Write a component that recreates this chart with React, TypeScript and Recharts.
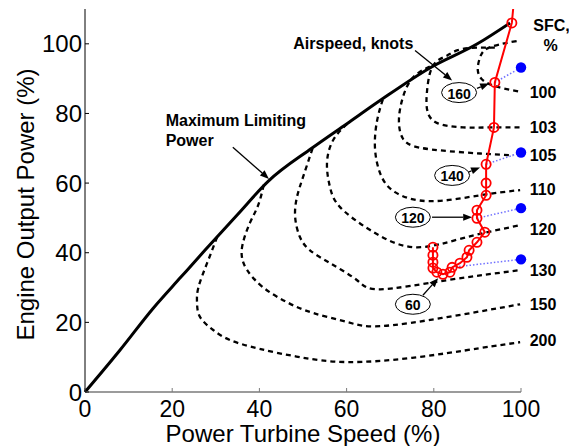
import { ComposedChart, Line, Scatter, XAxis, YAxis, ReferenceDot, ReferenceLine } from 'recharts';

const FONT = '"Liberation Sans", Arial, Helvetica, sans-serif';

type Pt = { x: number; y: number; mark?: boolean };

// Maximum limiting power line
const maxPower: Pt[] = [
  { x: 0, y: 0 }, { x: 8, y: 12 }, { x: 15.6, y: 24 }, { x: 22, y: 33 }, { x: 27.5, y: 40.7 },
  { x: 35, y: 51 }, { x: 42, y: 60.5 }, { x: 52, y: 70 }, { x: 60, y: 77 }, { x: 68, y: 84 },
  { x: 79, y: 93 }, { x: 90, y: 100 }, { x: 97.5, y: 106 },
];

// SFC contours (%)
const sfc100: Pt[] = [
  { x: 99, y: 100.8 }, { x: 95, y: 99.8 }, { x: 92, y: 98.5 }, { x: 90.6, y: 96.1 }, { x: 90.1, y: 92.3 },
  { x: 91.3, y: 89.5 }, { x: 93.6, y: 88 }, { x: 96, y: 87.2 }, { x: 99.5, y: 86.3 },
];
const sfc103: Pt[] = [
  { x: 94, y: 98.9 }, { x: 91.3, y: 98.9 }, { x: 88.3, y: 98.8 }, { x: 85.3, y: 98.1 }, { x: 83, y: 96.6 },
  { x: 80.7, y: 95 }, { x: 79.1, y: 91.5 }, { x: 78.4, y: 85.7 }, { x: 78.5, y: 80.9 }, { x: 80.7, y: 77.3 },
  { x: 86.7, y: 76 }, { x: 93, y: 76 }, { x: 99.8, y: 76 },
];
const sfc105: Pt[] = [
  { x: 79.1, y: 93.5 }, { x: 75.2, y: 90.3 }, { x: 72.9, y: 84.6 }, { x: 72, y: 78 }, { x: 72.9, y: 72.8 },
  { x: 75.7, y: 70.5 }, { x: 81.4, y: 69.4 }, { x: 90.6, y: 68.5 }, { x: 98.2, y: 68 },
];
const sfc110: Pt[] = [
  { x: 68.3, y: 84 }, { x: 67, y: 78 }, { x: 66.5, y: 70.3 }, { x: 67.7, y: 62.8 }, { x: 71.1, y: 57.4 },
  { x: 79.1, y: 54.8 }, { x: 90.6, y: 56.5 }, { x: 99.8, y: 58 },
];
const sfc120: Pt[] = [
  { x: 60.1, y: 77 }, { x: 56.9, y: 72.3 }, { x: 55.5, y: 65.7 }, { x: 56.2, y: 58.8 }, { x: 58.5, y: 53.1 },
  { x: 65.4, y: 46.5 }, { x: 75.2, y: 41.6 }, { x: 86.7, y: 44.2 }, { x: 99.8, y: 47.9 },
];
const sfc130: Pt[] = [
  { x: 52.2, y: 70 }, { x: 50, y: 61.7 }, { x: 48.6, y: 55.9 }, { x: 48.2, y: 50.2 }, { x: 49.3, y: 44.5 },
  { x: 51.6, y: 40.7 }, { x: 56.2, y: 37 }, { x: 62.4, y: 32.1 }, { x: 67.7, y: 29.5 }, { x: 83, y: 32.1 },
  { x: 99.8, y: 35 },
];
const sfc150: Pt[] = [
  { x: 41, y: 59.5 }, { x: 39.7, y: 53.6 }, { x: 37.8, y: 48.5 }, { x: 36.2, y: 42.7 }, { x: 36, y: 38.7 },
  { x: 37.2, y: 35 }, { x: 40.8, y: 30.1 }, { x: 46.3, y: 25.8 }, { x: 52.3, y: 22.7 }, { x: 60.1, y: 20.1 },
  { x: 67.7, y: 18.9 }, { x: 83, y: 21.5 }, { x: 99.8, y: 25.2 },
];
const sfc200: Pt[] = [
  { x: 30.3, y: 44.5 }, { x: 28, y: 37 }, { x: 26, y: 30 }, { x: 25.7, y: 25.5 }, { x: 26.4, y: 21.5 },
  { x: 29.4, y: 17.8 }, { x: 33.3, y: 14.9 }, { x: 40, y: 12.4 }, { x: 49.3, y: 10 }, { x: 60, y: 8.6 },
  { x: 75, y: 9.8 }, { x: 90.6, y: 12.6 }, { x: 99.8, y: 14.3 },
];
const contours = [sfc100, sfc103, sfc105, sfc110, sfc120, sfc130, sfc150, sfc200];

const sfcLabels = ['100', '103', '105', '110', '120', '130', '150', '200'];
const sfcLabelY = [86, 76, 67.8, 58.2, 46.7, 35, 25, 14.9];

// flight path (airspeed sweep)
const flightPath: Pt[] = [
  { x: 98.2, y: 110, mark: false }, { x: 97.9, y: 106 }, { x: 94, y: 88.9 }, { x: 93.8, y: 76 },
  { x: 92, y: 65.4 }, { x: 92, y: 60 }, { x: 92, y: 56.5 }, { x: 89.9, y: 52.2 }, { x: 89.9, y: 49.9 },
  { x: 91.7, y: 45.9 }, { x: 89.9, y: 43 }, { x: 88.1, y: 40.7 }, { x: 87.6, y: 38.7 }, { x: 86, y: 37 },
  { x: 84.2, y: 35.8 }, { x: 83.7, y: 34.4 }, { x: 82.1, y: 33.8 }, { x: 80.7, y: 34.4 }, { x: 79.8, y: 35.6 },
  { x: 79.8, y: 37.3 }, { x: 79.8, y: 39.3 }, { x: 79.8, y: 41.6 },
];

const bluePoints: Pt[] = [{ x: 100, y: 93.2 }, { x: 100, y: 68.8 }, { x: 100, y: 52.8 }, { x: 100, y: 38.1 }];
const blueLink160 = [{ x: 94, y: 88.9 }, { x: 100, y: 93.2 }];
const blueLink140 = [{ x: 92, y: 65.4 }, { x: 100, y: 68.8 }];
const blueLink120 = [{ x: 89.9, y: 49.9 }, { x: 100, y: 52.8 }];
const blueLink60 = [{ x: 84.2, y: 35.8 }, { x: 100, y: 38.1 }];
const blueLinks = [blueLink160, blueLink140, blueLink120, blueLink60];

const speedLabels = ['160', '140', '120', '60'];
const speedLabelPos = [{ x: 85.8, y: 86 }, { x: 84.2, y: 62.2 }, { x: 75.2, y: 50.2 }, { x: 75.2, y: 25.2 }];
const speedArrows = [
  [{ x: 89.9, y: 87.2 }, { x: 92.7, y: 88.6 }],
  [{ x: 87.8, y: 63.1 }, { x: 90.6, y: 64.5 }],
  [{ x: 79.6, y: 50.2 }, { x: 88.8, y: 50.2 }],
  [{ x: 77.5, y: 27.8 }, { x: 81, y: 32.7 }],
];
const airspeedArrow = [{ x: 75.7, y: 98.1 }, { x: 84.2, y: 89.5 }];
const maxPowerArrow = [{ x: 33.9, y: 70.3 }, { x: 42.2, y: 61.2 }];

const xTicks = [0, 20, 40, 60, 80, 100];
const yTicks = [0, 20, 40, 60, 80, 100];

function Arrow(props: any) {
  const { x1, y1, x2, y2 } = props;
  const a = Math.atan2(y2 - y1, x2 - x1);
  const len = 9;
  const w = 3.5;
  const bx = x2 - len * Math.cos(a);
  const by = y2 - len * Math.sin(a);
  const px = -Math.sin(a) * w;
  const py = Math.cos(a) * w;
  return (
    <g>
      <line x1={x1} y1={y1} x2={bx} y2={by} stroke="#000" strokeWidth={1.3} />
      <polygon points={`${x2},${y2} ${bx + px},${by + py} ${bx - px},${by - py}`} fill="#000" />
    </g>
  );
}

function textShape(text: string, anchor: 'start' | 'middle' | 'end', size = 16) {
  return (p: any) => (
    <text x={p.cx} y={p.cy} textAnchor={anchor} dominantBaseline="central" fontFamily={FONT} fontWeight="bold" fontSize={size} fill="#000">
      {text}
    </text>
  );
}

function ellipseShape(text: string) {
  return (p: any) => (
    <g>
      <ellipse cx={p.cx} cy={p.cy} rx={17.5} ry={10} fill="#fff" stroke="#000" strokeWidth={1} />
      <text x={p.cx} y={p.cy + 1} textAnchor="middle" dominantBaseline="central" fontFamily={FONT} fontWeight="bold" fontSize={14} fill="#000">
        {text}
      </text>
    </g>
  );
}

function RedDot(p: any) {
  if (p.payload && p.payload.mark === false) return <g key={p.index} />;
  return <circle key={p.index} cx={p.cx} cy={p.cy} r={4.6} fill="none" stroke="#ff0000" strokeWidth={1.8} />;
}

export default function App() {
  return (
    <div style={{ position: 'absolute', left: 0, top: 0, background: '#fff' }}>
      <ComposedChart width={569} height={446} margin={{ top: 9, right: 48, bottom: 24, left: 25 }}>
        <XAxis
          type="number"
          dataKey="x"
          domain={[0, 100]}
          ticks={xTicks}
          height={30}
          axisLine={{ stroke: '#7a7a7a', strokeWidth: 1.5 }}
          tickLine={{ stroke: '#7a7a7a' }}
          tickSize={-4}
          tickMargin={13}
          tick={{ fill: '#000', fontSize: 23, fontFamily: FONT }}
          label={{ value: 'Power Turbine Speed (%)', position: 'bottom', offset: 3, fill: '#000', fontSize: 24, fontFamily: FONT }}
        />
        <YAxis
          type="number"
          domain={[0, 110]}
          ticks={yTicks}
          width={60}
          axisLine={{ stroke: '#000', strokeWidth: 1 }}
          tickLine={{ stroke: '#000' }}
          tickSize={-4}
          tickMargin={7}
          tick={{ fill: '#000', fontSize: 24, fontFamily: FONT }}
          label={{
            content: (p: any) => {
              const vb = p.viewBox;
              const cx = vb.x;
              const cy = vb.y + vb.height / 2 + 4;
              return (
                <text x={cx} y={cy} transform={`rotate(-90 ${cx} ${cy})`} textAnchor="middle" dominantBaseline="central" fontFamily={FONT} fontSize={24} fill="#000">
                  Engine Output Power (%)
                </text>
              );
            },
          }}
        />
        {contours.map((c, i) => (
          <Line
            key={'c' + i}
            data={c}
            dataKey="y"
            type="natural"
            stroke="#000"
            strokeWidth={2.3}
            strokeDasharray="5 4"
            dot={false}
            activeDot={false}
            isAnimationActive={false}
          />
        ))}
        <Line data={maxPower} dataKey="y" type="monotone" stroke="#000" strokeWidth={3} dot={false} activeDot={false} isAnimationActive={false} />
        {blueLinks.map((b, i) => (
          <Line
            key={'b' + i}
            data={b}
            dataKey="y"
            type="linear"
            stroke="#7070ff"
            strokeWidth={1.5}
            strokeDasharray="1.5 2"
            dot={false}
            activeDot={false}
            isAnimationActive={false}
          />
        ))}
        <Line data={flightPath} dataKey="y" type="linear" stroke="#ff0000" strokeWidth={2} dot={RedDot} activeDot={false} isAnimationActive={false} />
        <Scatter
          data={bluePoints}
          dataKey="y"
          isAnimationActive={false}
          shape={(p: any) => <circle cx={p.cx} cy={p.cy} r={5.2} fill="#0000ff" />}
        />
        {sfcLabels.map((t, i) => (
          <ReferenceDot key={'l' + i} x={102} y={sfcLabelY[i]} r={0} ifOverflow="visible" shape={textShape(t, 'start')} />
        ))}
        <ReferenceDot x={102.8} y={105.2} r={0} ifOverflow="visible" shape={textShape('SFC,', 'start')} />
        <ReferenceDot x={106.8} y={99.5} r={0} ifOverflow="visible" shape={textShape('%', 'middle')} />
        <ReferenceDot x={75.3} y={100.2} r={0} ifOverflow="visible" shape={textShape('Airspeed, knots', 'end')} />
        <ReferenceDot x={18.5} y={78} r={0} ifOverflow="visible" shape={textShape('Maximum Limiting', 'start')} />
        <ReferenceDot x={18.5} y={72.2} r={0} ifOverflow="visible" shape={textShape('Power', 'start')} />
        <ReferenceLine segment={airspeedArrow} ifOverflow="visible" shape={Arrow} />
        <ReferenceLine segment={maxPowerArrow} ifOverflow="visible" shape={Arrow} />
        {speedArrows.map((s, i) => (
          <ReferenceLine key={'a' + i} segment={s} ifOverflow="visible" shape={Arrow} />
        ))}
        {speedLabels.map((t, i) => (
          <ReferenceDot key={'e' + i} x={speedLabelPos[i].x} y={speedLabelPos[i].y} r={0} ifOverflow="visible" shape={ellipseShape(t)} />
        ))}
      </ComposedChart>
    </div>
  );
}
